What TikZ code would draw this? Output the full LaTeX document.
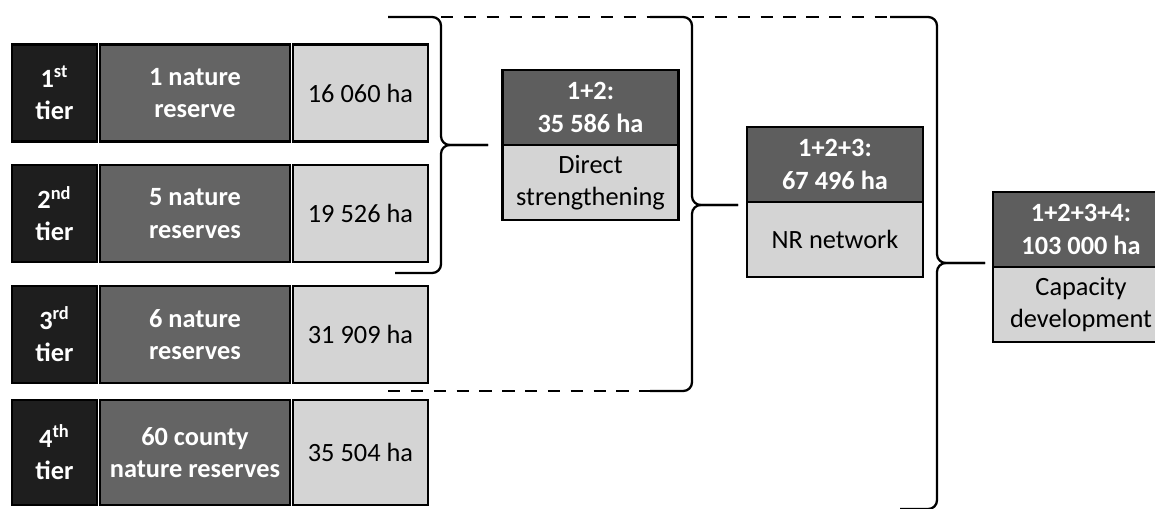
\documentclass[tikz,border=0pt]{standalone}
\usepackage{fontspec}
\setmainfont{Carlito}
\usepackage{tikz}
\usetikzlibrary{
  positioning
}
\definecolor{nrTier}{HTML}{1E1E1E}
\definecolor{nrDesc}{HTML}{646464}
\definecolor{nrArea}{HTML}{D4D4D4}
\definecolor{nrSum}{HTML}{5E5E5E}
\tikzset{
  nrnode/.style={
    draw, line width=1.6pt, outer sep=0pt, inner sep=1pt, align=center,
    minimum height=1.94cm, font=\fontsize{15}{18.5}\selectfont
  },
  tierbox/.style={nrnode, fill=nrTier, text=white, minimum width=1.7cm, font=\fontsize{15}{18.5}\selectfont\bfseries},
  descbox/.style={nrnode, fill=nrDesc, text=white, minimum width=3.8cm, font=\fontsize{15}{18.5}\selectfont\bfseries},
  areabox/.style={nrnode, fill=nrArea, minimum width=2.7cm},
  sumtop/.style={nrnode, fill=nrSum, text=white, minimum width=3.52cm, minimum height=1.5cm, font=\fontsize{15}{18.5}\selectfont\bfseries},
  sumbot/.style={nrnode, fill=nrArea, minimum width=3.52cm, minimum height=1.5cm},
  bracket/.style={line width=1.3pt, rounded corners=5pt},
  extline/.style={line width=1.3pt, dash pattern=on 7pt off 6pt}
}
\begin{document}
\begin{tikzpicture}[x=0.02cm, y=-0.02cm]
  \useasboundingbox (0,0) rectangle (1155,508);
  \clip (0,0) rectangle (1155,508);
  % tiers
  \node[tierbox] (t1) at (54.5,93) {1\textsuperscript{st}\\tier};
  \node[descbox, right=0.06cm of t1] (d1) {1 nature\\reserve};
  \node[areabox, right=0.06cm of d1] (a1) {16 060 ha};
  \node[tierbox, below=0.47cm of t1] (t2) {2\textsuperscript{nd}\\tier};
  \node[descbox, right=0.06cm of t2] (d2) {5 nature\\reserves};
  \node[areabox, right=0.06cm of d2] (a2) {19 526 ha};
  \node[tierbox, below=0.48cm of t2] (t3) {3\textsuperscript{rd}\\tier};
  \node[descbox, right=0.06cm of t3] (d3) {6 nature\\reserves};
  \node[areabox, right=0.06cm of d3] (a3) {31 909 ha};
  \node[tierbox, below=0.34cm of t3, minimum height=2.1cm] (t4) {4\textsuperscript{th}\\tier};
  \node[descbox, right=0.06cm of t4, minimum height=2.1cm] (d4) {60 county\\nature reserves};
  \node[areabox, right=0.06cm of d4, minimum height=2.1cm] (a4) {35 504 ha};
  % totals
  \node[sumtop] (s12) at (590.5,107.5) {1+2:\\35 586 ha};
  \node[sumbot, below=0pt of s12] (s12b) {Direct\\strengthening};
  \node[sumtop] (s123) at (835,164.5) {1+2+3:\\67 496 ha};
  \node[sumbot, below=0pt of s123] (s123b) {NR network};
  \node[sumtop] (s1234) at (1081,229.5) {1+2+3+4:\\103 000 ha};
  \node[sumbot, below=0pt of s1234] (s1234b) {Capacity\\development};
  % braces
  \coordinate (tip12) at (488,145);
  \coordinate (tip123) at (738,205);
  \coordinate (tip1234) at (985,263);
  \draw[bracket] (388,17) -- (441,17) -- (441,145) -- (tip12);
  \draw[bracket] (395,273) -- (441,273) -- (441,145) -- (tip12);
  \draw[extline] (441,17) -- (650,17);
  \draw[extline] (388,391) -- (650,391);
  \draw[bracket] (650,17) -- (692,17) -- (692,205) -- (tip123);
  \draw[bracket] (650,391) -- (692,391) -- (692,205) -- (tip123);
  \draw[extline] (692,17) -- (890,17);
  \draw[bracket] (890,17) -- (937,17) -- (937,263) -- (tip1234);
  \draw[bracket] (900,509) -- (937,509) -- (937,263) -- (tip1234);
\end{tikzpicture}
\end{document}
